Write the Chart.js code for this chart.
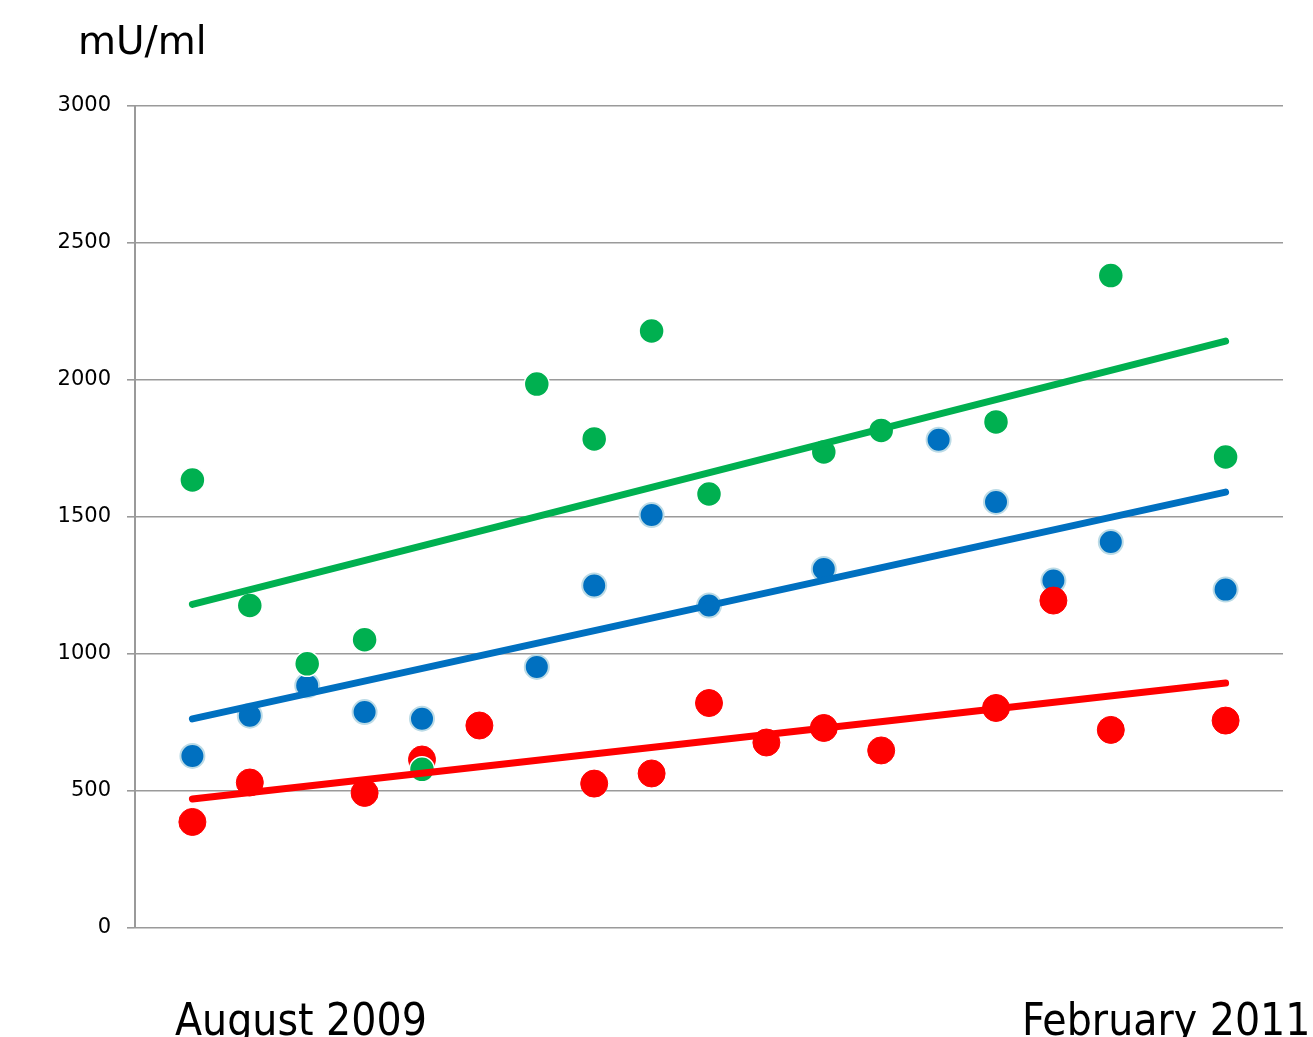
<!DOCTYPE html>
<html>
<head>
<meta charset="utf-8">
<script src="https://cdn.jsdelivr.net/npm/chart.js@4"></script>
<style>
  html, body { margin: 0; padding: 0; background: #fff; overflow: hidden; }
  #wrap { position: relative; width: 1313px; height: 1037px; }
  canvas { position: absolute; left: 0; top: 0; }
  .lbl { position: absolute; font-family: "Comic Sans MS", "DejaVu Sans", sans-serif; color: #000; white-space: nowrap; line-height: 1; }
  .cond { font-family: "Comic Sans MS", "DejaVu Sans Condensed", "DejaVu Sans", sans-serif; font-stretch: condensed; }
</style>
</head>
<body>
<div id="wrap">
  <canvas id="c" width="1313" height="1037"></canvas>
  <div class="lbl" id="yTitle" style="left:78px; top:21px; font-size:39px;">mU/ml</div>
  <div class="lbl cond" id="xStart" style="left:175px; top:998px; font-size:44px;">August 2009</div>
  <div class="lbl cond" id="xEnd" style="left:1022px; top:998px; font-size:44px;">February 2011</div>
</div>
<script>
// ---- data ----
const yTicks = [0, 500, 1000, 1500, 2000, 2500, 3000];

const greenX = [1, 2, 3, 4, 5, 7, 8, 9, 10, 12, 13, 15, 17, 19];
const greenY = [1635, 1177, 964, 1052, 579, 1985, 1785, 2179, 1584, 1737, 1816, 1847, 2381, 1719];

const blueX = [1, 2, 3, 4, 5, 7, 8, 9, 10, 12, 14, 15, 16, 17, 19];
const blueY = [628, 775, 885, 788, 764, 953, 1250, 1507, 1177, 1310, 1782, 1555, 1268, 1409, 1235];

const redX = [1, 2, 4, 5, 6, 8, 9, 10, 11, 12, 13, 15, 16, 17, 19];
const redY = [387, 531, 493, 615, 739, 527, 564, 821, 677, 730, 648, 803, 1195, 723, 757];

const trendX = [1, 19];
const greenTrend = [1181, 2142];
const blueTrend = [763, 1591];
const redTrend = [471, 894];

// ---- build ----
const pts = (xs, ys) => xs.map((x, i) => ({ x: x, y: ys[i] }));

const GREEN = '#00B050', BLUE = '#0070C0', RED = '#FF0000', GRID = '#9a9a9a';

const trend = (label, ys, color, order) => ({
  type: 'line', label: label, data: pts(trendX, ys),
  borderColor: color, borderWidth: 7, borderCapStyle: 'round',
  pointRadius: 0, fill: false, order: order
});

new Chart(document.getElementById('c'), {
  type: 'scatter',
  data: {
    datasets: [
      trend('red trend', redTrend, RED, 0),
      trend('blue trend', blueTrend, BLUE, 1),
      trend('green trend', greenTrend, GREEN, 2),
      { label: 'green', data: pts(greenX, greenY), backgroundColor: GREEN, borderColor: '#ffffff',
        borderWidth: 1.5, pointRadius: 12.5, order: 3 },
      { label: 'red', data: pts(redX, redY), backgroundColor: RED, borderColor: RED,
        borderWidth: 1, pointRadius: 13.5, order: 4 },
      { label: 'blue', data: pts(blueX, blueY), backgroundColor: BLUE, borderColor: '#bcdbe6',
        borderWidth: 2, pointRadius: 12, order: 5 }
    ]
  },
  options: {
    responsive: false,
    animation: false,
    layout: { padding: { top: 106, bottom: 109, left: 0, right: 30 } },
    plugins: { legend: { display: false }, tooltip: { enabled: false } },
    scales: {
      x: { type: 'linear', min: 0, max: 20, display: false },
      y: {
        type: 'linear', min: 0, max: 3000,
        afterBuildTicks: (s) => { s.ticks = yTicks.map(v => ({ value: v })); },
        afterFit: (s) => { s.width = 135; },
        grid: { color: GRID, lineWidth: 1.6, tickLength: 8, tickColor: GRID, drawTicks: true },
        border: { display: true, color: GRID, width: 2 },
        ticks: { color: '#000', padding: 16, callback: (v) => String(v),
                 font: { family: 'DejaVu Sans, sans-serif', size: 21 } }
      }
    }
  }
});
</script>
</body>
</html>
